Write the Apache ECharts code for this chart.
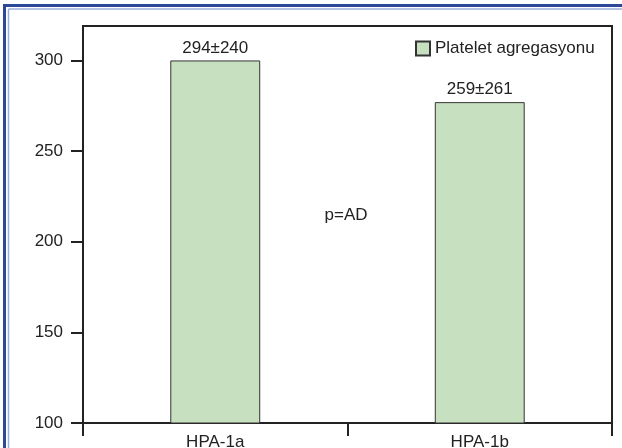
<!DOCTYPE html>
<html>
<head>
<meta charset="utf-8">
<script src="https://cdn.jsdelivr.net/npm/echarts@6/dist/echarts.min.js"></script>
<style>
html,body{margin:0;padding:0;background:#fff;}
#c{width:622px;height:448px;}
</style>
</head>
<body>
<div id="c"></div>
<script>
const categories = ['HPA-1a', 'HPA-1b'];
const barValues = [300, 277];
const barLabels = ['294±240', '259±261'];
const seriesName = 'Platelet agregasyonu';
const yTicks = [100, 150, 200, 250, 300];
const annotation = 'p=AD';

const FONT = 'Liberation Sans, Arial, sans-serif';
const FS = 17;
const chart = echarts.init(document.getElementById('c'), null, {renderer: 'canvas'});
chart.setOption({
  animation: false,
  backgroundColor: '#fff',
  textStyle: {fontFamily: FONT},
  grid: {left: 83, right: 10, top: 26, bottom: 25, outerBoundsMode: 'none', show: true, borderColor: '#222', borderWidth: 2, containLabel: false},
  legend: {
    show: true, left: 415, top: 40, padding: 0, itemWidth: 14, itemHeight: 14, itemGap: 8,
    icon: 'rect',
    data: [seriesName],
    textStyle: {fontSize: FS, color: '#222', fontFamily: FONT}
  },
  xAxis: {
    type: 'category', data: categories,
    axisLine: {show: true, lineStyle: {color: '#222', width: 2}},
    axisTick: {show: true, length: 13, lineStyle: {color: '#222', width: 2}},
    axisLabel: {fontSize: FS, color: '#222', margin: 11, fontFamily: FONT},
    splitLine: {show: false}
  },
  yAxis: {
    type: 'value', min: 100, max: 319,
    axisLine: {show: true, lineStyle: {color: '#222', width: 2}},
    axisTick: {show: true, length: 12, customValues: yTicks, lineStyle: {color: '#222', width: 2}},
    axisLabel: {fontSize: FS, color: '#222', margin: 20, customValues: yTicks, fontFamily: FONT},
    splitLine: {show: false}
  },
  series: [{
    name: seriesName, type: 'bar', data: barValues, barWidth: '34%',
    itemStyle: {color: '#c6e0c0', borderColor: '#333', borderWidth: 1},
    label: {
      show: true, position: 'top', distance: 4, fontSize: FS, color: '#222', fontFamily: FONT,
      formatter: p => barLabels[p.dataIndex]
    }
  }],
  graphic: [
    {type: 'line', shape: {x1: 3, y1: 5.5, x2: 622, y2: 5.5}, style: {stroke: '#2d4899', lineWidth: 3}, silent: true},
    {type: 'line', shape: {x1: 4.5, y1: 4, x2: 4.5, y2: 448}, style: {stroke: '#2d4899', lineWidth: 3}, silent: true},
    {type: 'line', shape: {x1: 8.5, y1: 9, x2: 622, y2: 9}, style: {stroke: '#9aaedc', lineWidth: 1.5}, silent: true},
    {type: 'line', shape: {x1: 8.5, y1: 9, x2: 8.5, y2: 448}, style: {stroke: '#9aaedc', lineWidth: 1.5}, silent: true},
    {type: 'text', x: 346, y: 215, style: {text: annotation, fontSize: FS, fill: '#222', fontFamily: FONT, textAlign: 'center', textVerticalAlign: 'middle'}, silent: true}
  ]
});
</script>
</body>
</html>
